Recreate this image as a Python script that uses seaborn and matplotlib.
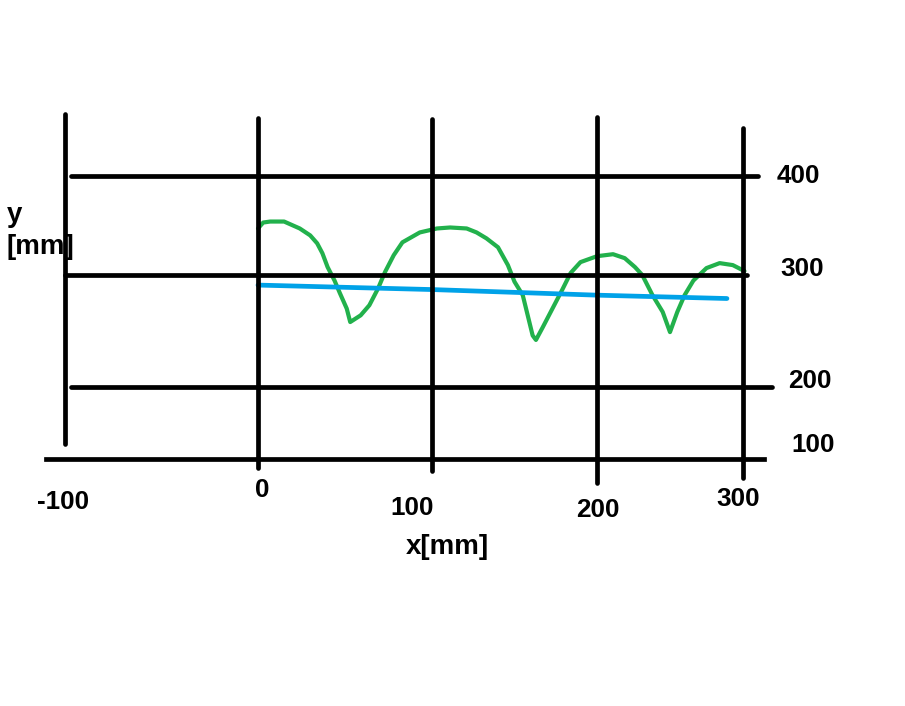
import numpy as np
import matplotlib
matplotlib.use('Agg')
import matplotlib.pyplot as plt
import seaborn as sns

# Grid values and where the hand-drawn grid lines sit in the picture (pixels)
x_grid = [-100, 0, 100, 200, 300]
x_grid_px = [65, 258, 432, 597, 743]
y_grid = [100, 200, 300, 400]
y_grid_px = [459, 387, 275, 176]

x_tick_labels = ['-100', '0', '100', '200', '300']
y_tick_labels = ['100', '200', '300', '400']

# Green measured profile
green_x = [0, 3, 7, 15, 24, 30, 34, 37, 40, 44, 47, 51, 53, 59, 64, 69, 73, 78, 83, 93,
           103, 111, 121, 127, 133, 140, 146, 150, 155, 158, 161, 163, 167, 173, 179, 184,
           190, 200, 211, 219, 226, 231, 238, 245, 250, 255, 260, 266, 275, 284, 293, 301]
green_y = [347, 353, 354, 354, 347, 340, 332, 322, 308, 295, 284, 270, 258, 264, 273, 288,
           303, 320, 333, 343, 347, 348, 347, 343, 337, 328, 310, 294, 282, 264, 246, 242,
           253, 270, 287, 302, 313, 319, 321, 317, 308, 300, 282, 267, 249, 267, 282, 295,
           307, 312, 310, 304]

# Blue straight line
blue_x = [0, 100, 200, 289]
blue_y = [291, 287, 282, 279]

# Extents of the hand-drawn grid lines (data units)
v_bottom = [121, 88, 83, 67, 74]
v_top = [463, 459, 458, 460, 448]
h_vals = [200, 300, 400]
h_left = [-97, -100, -97]
h_right = [320, 303, 310]


def piecewise(vals, px):
    # piecewise linear mapping with linear extrapolation at both ends
    vals = np.asarray(vals, float)
    px = np.asarray(px, float)

    def f(v):
        v = np.asarray(v, float)
        lo = px[0] + (v - vals[0]) * (px[1] - px[0]) / (vals[1] - vals[0])
        hi = px[-1] + (v - vals[-1]) * (px[-1] - px[-2]) / (vals[-1] - vals[-2])
        return np.where(v < vals[0], lo, np.where(v > vals[-1], hi, np.interp(v, vals, px)))
    return f


x_fwd = piecewise(x_grid, x_grid_px)
x_inv = piecewise(x_grid_px, x_grid)
y_neg_px = [-p for p in y_grid_px]
y_fwd = piecewise(y_grid, y_neg_px)
y_inv = piecewise(y_neg_px, y_grid)

sns.set_theme(style='white')
plt.rcParams['font.family'] = ['Liberation Sans', 'DejaVu Sans']
plt.rcParams['text.color'] = 'black'

W, H = 905, 706
fig = plt.figure(figsize=(W / 100, H / 100), dpi=100)
left_px, right_px, bottom_px, top_px = 46, 764, 459, 100
ax = fig.add_axes([left_px / W, 1 - bottom_px / H, (right_px - left_px) / W, (bottom_px - top_px) / H])
ax.set_xscale('function', functions=(x_fwd, x_inv))
ax.set_yscale('function', functions=(y_fwd, y_inv))

sns.lineplot(x=green_x, y=green_y, ax=ax, color='#22B14C', linewidth=3.0,
             estimator=None, sort=False, solid_capstyle='round', solid_joinstyle='round', zorder=2)
sns.lineplot(x=blue_x, y=blue_y, ax=ax, color='#00A2E8', linewidth=3.4,
             estimator=None, sort=False, solid_capstyle='round', zorder=2)

# grid lines
ax.vlines(x_grid, v_bottom, v_top, colors='black', linewidth=3.4, clip_on=False,
          capstyle='round', zorder=3)
ax.hlines(h_vals, h_left, h_right, colors='black', linewidth=3.4, clip_on=False,
          capstyle='round', zorder=3)

ax.set_xlim(float(x_inv(left_px)), float(x_inv(right_px)))
ax.set_ylim(float(y_inv(-bottom_px)), float(y_inv(-top_px)))
ax.set_xticks([])
ax.set_yticks([])
ax.set_xlabel('')
ax.set_ylabel('')
for side in ['top', 'left', 'right']:
    ax.spines[side].set_visible(False)
ax.spines['bottom'].set_color('black')
ax.spines['bottom'].set_linewidth(3.4)
ax.spines['bottom'].set_zorder(3)
ax.patch.set_alpha(0)

# tick labels (hand-placed in the original, small nudges in pixels)
x_dx = [-2, 4, -20, 1, -5]
x_down = [31, 19, 37, 39, 28]
for val, lab, dx, dn in zip(x_grid, x_tick_labels, x_dx, x_down):
    ax.annotate(lab, xy=(val, 0), xycoords=('data', 'axes fraction'),
                xytext=(dx, -dn), textcoords='offset pixels', color='black',
                ha='center', va='top', fontsize=18.8, fontweight='bold', annotation_clip=False)

y_dx = [27, 24, 16, 13]
y_down = [-7, 1, 1, 7]
for val, lab, dx, dn in zip(y_grid, y_tick_labels, y_dx, y_down):
    ax.annotate(lab, xy=(1, val), xycoords=('axes fraction', 'data'),
                xytext=(dx, -dn), textcoords='offset pixels', color='black',
                ha='left', va='baseline', fontsize=18.8, fontweight='bold', annotation_clip=False)

fig.text(447 / W, 1 - 547 / H, 'x[mm]', ha='center', va='center', fontsize=20,
         fontweight='bold', color='black')
fig.text(7 / W, 1 - 222 / H, 'y', ha='left', va='baseline', fontsize=20,
         fontweight='bold', color='black')
fig.text(7 / W, 1 - 254 / H, '[mm]', ha='left', va='baseline', fontsize=20,
         fontweight='bold', color='black')

fig.savefig('out.png', dpi=100)
